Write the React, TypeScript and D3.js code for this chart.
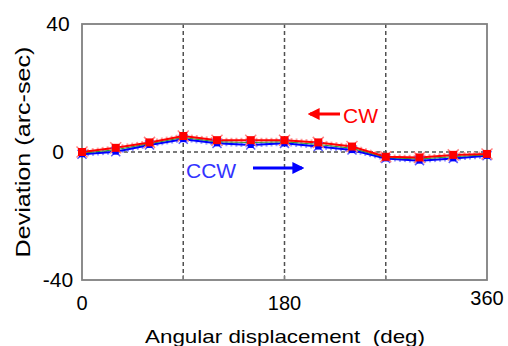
import * as d3 from 'd3';
import React, { useRef, useEffect } from 'react';

// angular positions (deg)
const angles = [0, 30, 60, 90, 120, 150, 180, 210, 240, 270, 300, 330, 360];
// deviation, clockwise (arc-sec)
const cwValues = [0, 1.3, 3.0, 5.0, 3.7, 3.7, 3.7, 3.0, 1.7, -1.5, -1.7, -0.9, -0.6];
// deviation, counter-clockwise (arc-sec)
const ccwValues = [-0.7, 0.1, 2.2, 4.0, 2.7, 2.2, 2.7, 1.7, 0.6, -2.0, -2.7, -2.0, -1.2];
const xTicks = [0, 180, 360];
const yTicks = [40, 0, -40];
const gridAngles = [90, 180, 270];

function App(): any {
  const ref = useRef(null);

  const width = 508;
  const height = 346;
  const margin = { top: 24, right: 21, bottom: 66, left: 82 };

  useEffect(() => {
    const svg = d3.select(ref.current);
    svg.selectAll("*").remove();

    const xScale = d3.scaleLinear()
      .domain([0, 360])
      .range([margin.left, width - margin.right]);

    const yScale = d3.scaleLinear()
      .domain([-40, 40])
      .range([height - margin.bottom, margin.top]);

    const font = "'Liberation Sans', Arial, sans-serif";
    const x0 = xScale(0), x1 = xScale(360);
    const y0 = yScale(-40), y1 = yScale(40);

    // dashed grid at 90/180/270 and at 0
    svg.selectAll(".vgrid")
      .data(gridAngles)
      .enter().append("line")
      .attr("class", "vgrid")
      .attr("x1", (d: number) => xScale(d)).attr("x2", (d: number) => xScale(d))
      .attr("y1", y1).attr("y2", y0)
      .attr("stroke", "#505050").attr("stroke-width", 1.5)
      .attr("stroke-dasharray", "4,3");

    svg.append("line")
      .attr("x1", x0).attr("x2", x1)
      .attr("y1", yScale(0)).attr("y2", yScale(0))
      .attr("stroke", "#505050").attr("stroke-width", 1.5)
      .attr("stroke-dasharray", "4,3");

    // frame
    svg.append("rect")
      .attr("x", x0).attr("y", y1)
      .attr("width", x1 - x0).attr("height", y0 - y1)
      .attr("fill", "none").attr("stroke", "#808080").attr("stroke-width", 1.8);

    // small ticks on the bottom edge
    svg.selectAll(".btick")
      .data(gridAngles)
      .enter().append("line")
      .attr("x1", (d: number) => xScale(d)).attr("x2", (d: number) => xScale(d))
      .attr("y1", y0).attr("y2", y0 - 5)
      .attr("stroke", "#808080").attr("stroke-width", 1.2);

    // tick labels
    svg.selectAll(".ylab")
      .data(yTicks)
      .enter().append("text")
      .attr("x", 58)
      .attr("y", (d: number) => yScale(d) + 7)
      .attr("text-anchor", "middle")
      .attr("font-family", font).attr("font-size", 21)
      .text((d: number) => d);

    svg.selectAll(".xlab")
      .data(xTicks)
      .enter().append("text")
      .attr("x", (d: number) => xScale(d))
      .attr("y", (d: number) => d === 360 ? 305 : 310)
      .attr("text-anchor", "middle")
      .attr("font-family", font).attr("font-size", 20)
      .text((d: number) => d);

    svg.append("text")
      .attr("x", 285).attr("y", 343)
      .attr("text-anchor", "middle")
      .attr("font-family", font).attr("font-size", 19)
      .attr("textLength", 280).attr("lengthAdjust", "spacingAndGlyphs")
      .attr("xml:space", "preserve")
      .text("Angular displacement  (deg)");

    svg.append("text")
      .attr("transform", "translate(30,152) rotate(-90)")
      .attr("text-anchor", "middle")
      .attr("font-family", font).attr("font-size", 20)
      .attr("textLength", 211).attr("lengthAdjust", "spacingAndGlyphs")
      .text("Deviation (arc-sec)");

    const cw = angles.map((a, i) => [a, cwValues[i]] as [number, number]);
    const ccw = angles.map((a, i) => [a, ccwValues[i]] as [number, number]);
    const mid = angles.map((a, i) => [a, (cwValues[i] + ccwValues[i]) / 2] as [number, number]);

    const line = d3.line<[number, number]>()
      .x(d => xScale(d[0]))
      .y(d => yScale(d[1]));

    // faint dotted halo lines
    svg.append("path").attr("d", line(cw)).attr("fill", "none")
      .attr("stroke", "#ff9a9a").attr("stroke-width", 5).attr("stroke-dasharray", "2,3");
    svg.append("path").attr("d", line(ccw)).attr("fill", "none")
      .attr("stroke", "#9a9aff").attr("stroke-width", 5).attr("stroke-dasharray", "2,3");

    svg.append("path").attr("d", line(ccw)).attr("fill", "none")
      .attr("stroke", "#0000ff").attr("stroke-width", 2);
    svg.append("path").attr("d", line(mid)).attr("fill", "none")
      .attr("stroke", "#2e9a2e").attr("stroke-width", 1);
    svg.append("path").attr("d", line(cw)).attr("fill", "none")
      .attr("stroke", "#ff0000").attr("stroke-width", 2);

    // CCW markers: x plus small square
    const ccwG = svg.selectAll(".ccwm")
      .data(ccw)
      .enter().append("g")
      .attr("transform", (d: [number, number]) => `translate(${xScale(d[0])},${yScale(d[1])})`);
    ccwG.append("path")
      .attr("d", "M-4.5,-4.5L4.5,4.5M-4.5,4.5L4.5,-4.5")
      .attr("stroke", "#5a5aff").attr("stroke-width", 1.5);
    ccwG.append("rect")
      .attr("x", -3).attr("y", -3).attr("width", 6).attr("height", 6)
      .attr("fill", "#0000ff");

    // CW markers: square with faint x
    const cwG = svg.selectAll(".cwm")
      .data(cw)
      .enter().append("g")
      .attr("transform", (d: [number, number]) => `translate(${xScale(d[0])},${yScale(d[1])})`);
    cwG.append("path")
      .attr("d", "M-5.5,-5.5L5.5,5.5M-5.5,5.5L5.5,-5.5")
      .attr("stroke", "#ff8080").attr("stroke-width", 1.5);
    cwG.append("rect")
      .attr("x", -4).attr("y", -4).attr("width", 8).attr("height", 8)
      .attr("fill", "#ff0000");

    // arrows + labels
    const defs = svg.append("defs");
    const mk = (id: string, color: string) => defs.append("marker")
      .attr("id", id).attr("viewBox", "0 0 10 10")
      .attr("refX", 8).attr("refY", 5)
      .attr("markerWidth", 4).attr("markerHeight", 4)
      .attr("orient", "auto")
      .append("path").attr("d", "M0,0L10,5L0,10Z").attr("fill", color);
    mk("arrRed", "#ff0000");
    mk("arrBlue", "#0000ff");

    svg.append("line")
      .attr("x1", 340).attr("y1", 114).attr("x2", 310).attr("y2", 114)
      .attr("stroke", "#ff0000").attr("stroke-width", 3)
      .attr("marker-end", "url(#arrRed)");
    svg.append("text")
      .attr("x", 343).attr("y", 123)
      .attr("font-family", font).attr("font-size", 21)
      .attr("fill", "#ff0000")
      .text("CW");

    svg.append("line")
      .attr("x1", 253).attr("y1", 168).attr("x2", 302).attr("y2", 168)
      .attr("stroke", "#0000ff").attr("stroke-width", 3)
      .attr("marker-end", "url(#arrBlue)");
    svg.append("text")
      .attr("x", 186).attr("y", 178)
      .attr("font-family", font).attr("font-size", 21)
      .attr("fill", "#3333ff")
      .text("CCW");
  }, []);

  return (
    <svg
      ref={ref}
      width={width}
      height={height}
      style={{ position: "absolute", left: 0, top: 0, background: "white" }}
    />
  );
}

export default App;
